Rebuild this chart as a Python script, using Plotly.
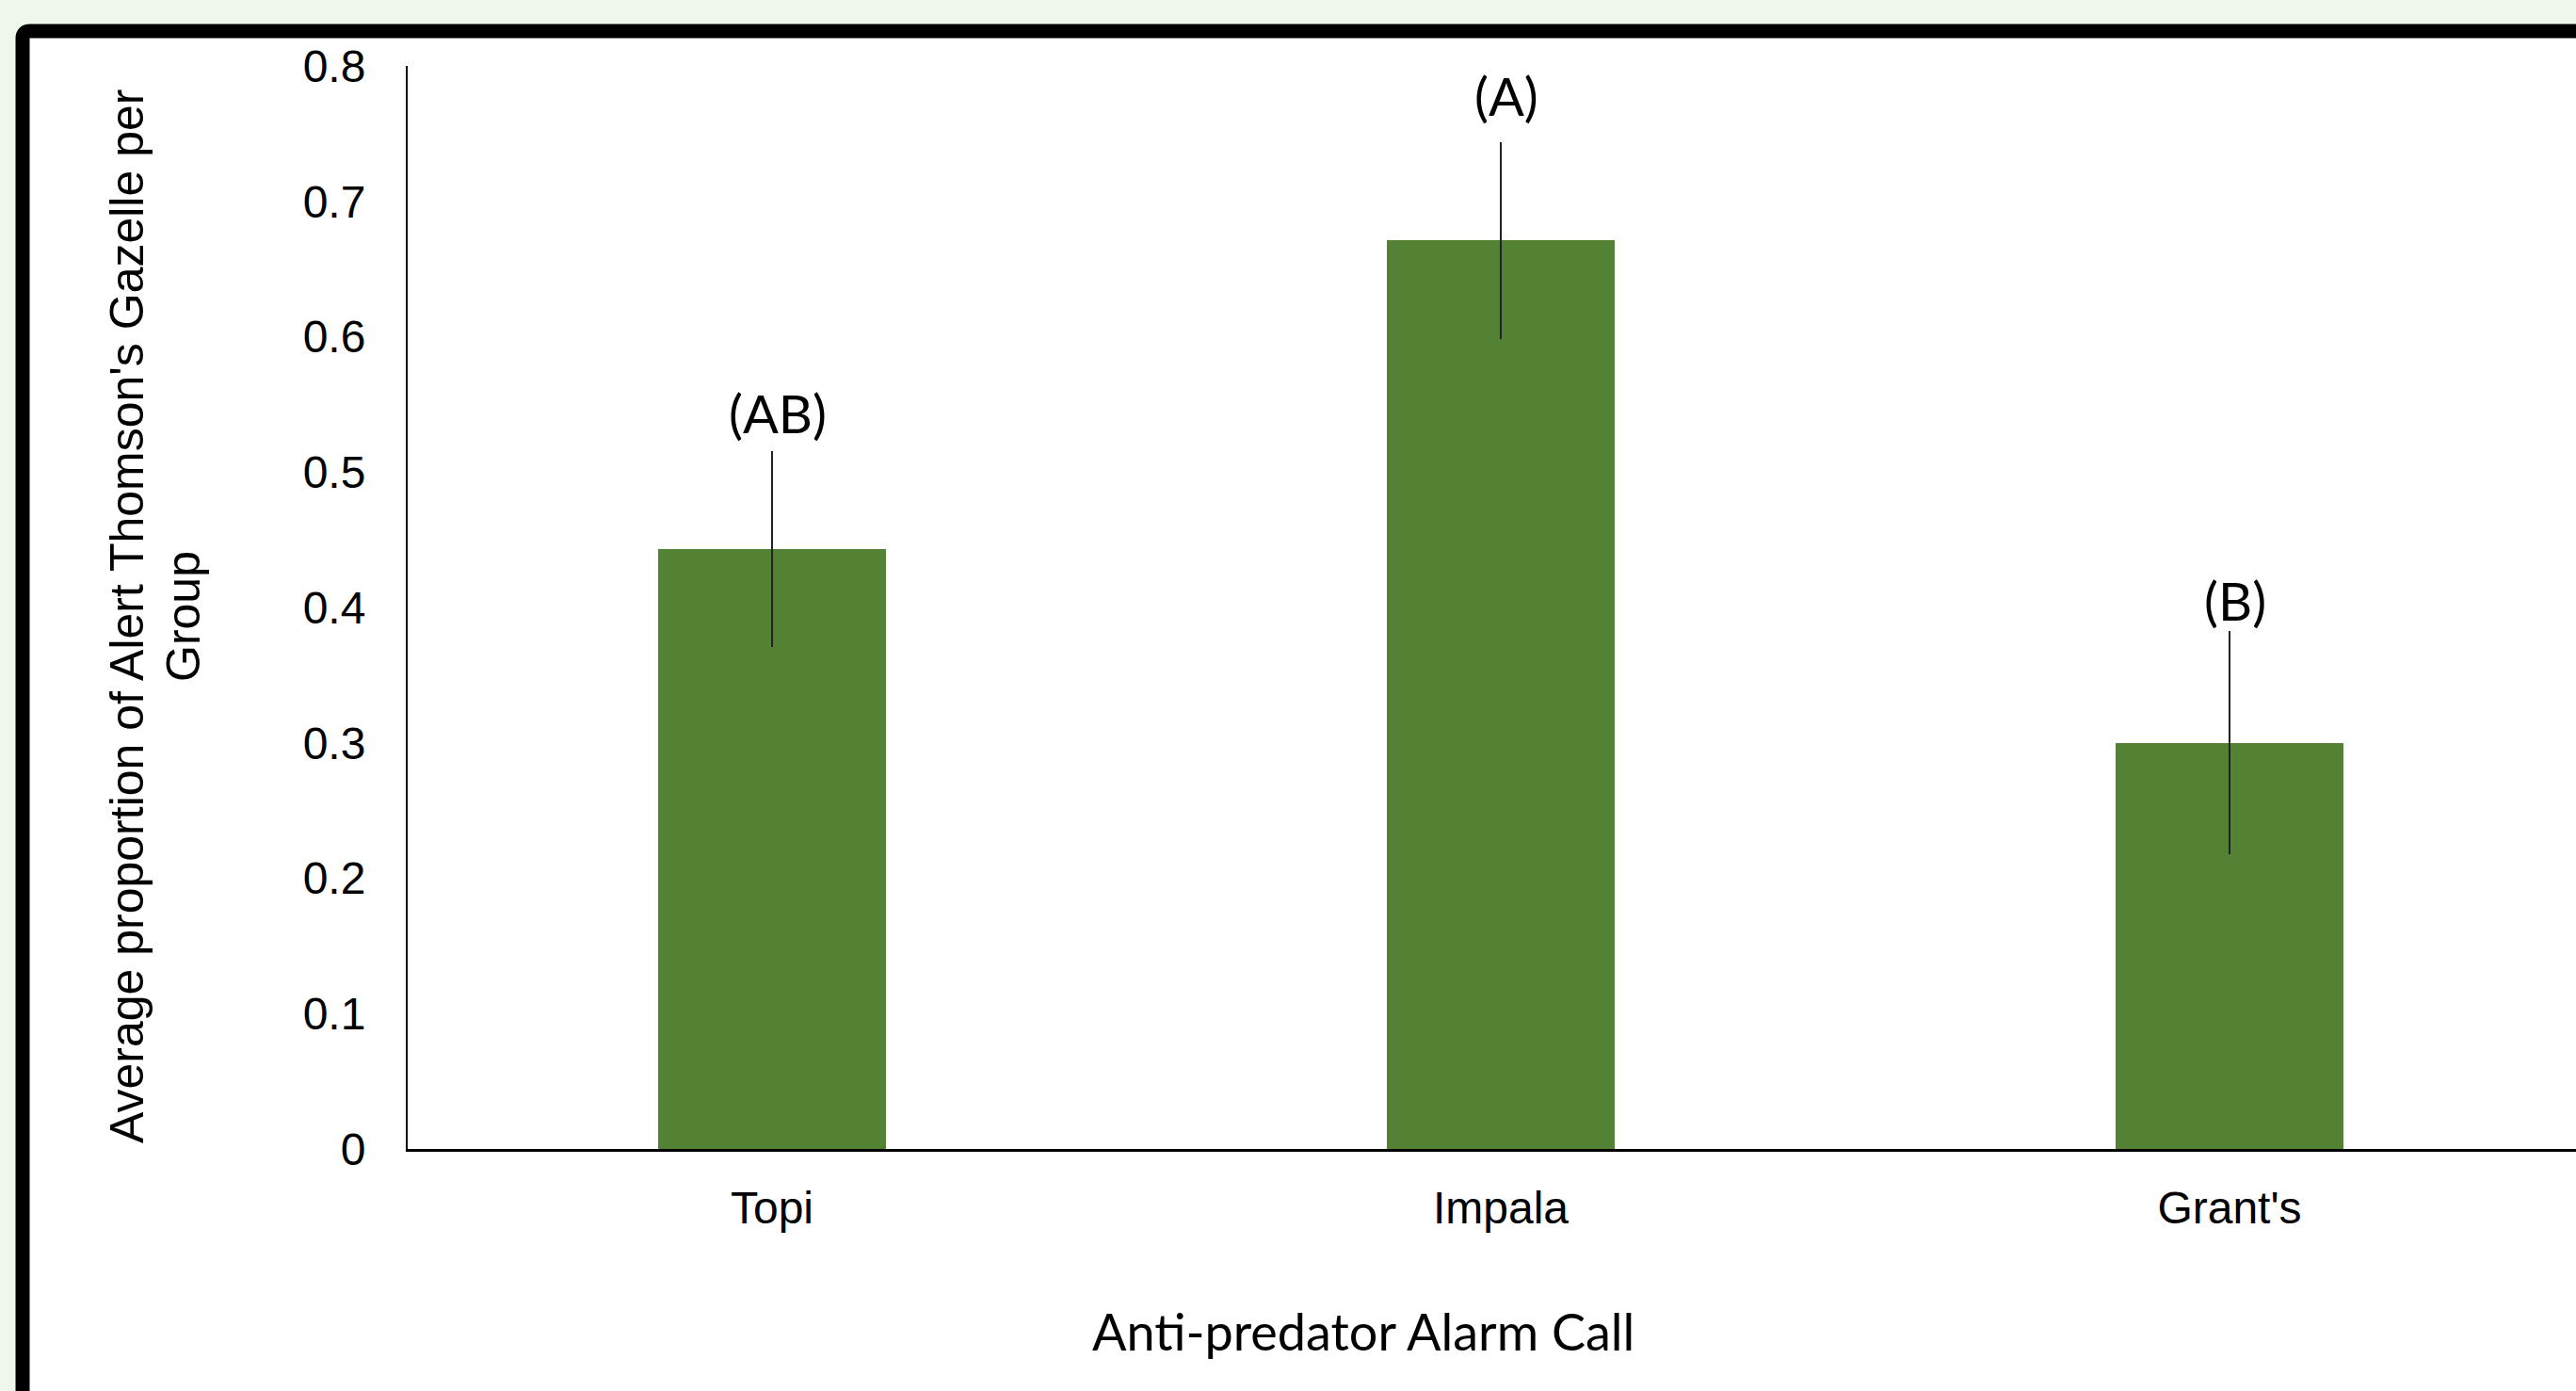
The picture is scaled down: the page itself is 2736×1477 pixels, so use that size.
import plotly.graph_objects as go

# ---- data ----
categories = ["Topi", "Impala", "Grant's"]
mean_alert = [0.443, 0.671, 0.300]
error_vals = [0.072, 0.072, 0.082]
group_letters = ["(AB)", "(A)", "(B)"]
letter_y = [0.544, 0.778, 0.405]
y_tick_vals = [0, 0.1, 0.2, 0.3, 0.4, 0.5, 0.6, 0.7, 0.8]
y_tick_text = ["0", "0.1", "0.2", "0.3", "0.4", "0.5", "0.6", "0.7", "0.8"]

# ---- layout constants (pixels) ----
W, H = 2736, 1477
ML, MR, MT, MB = 433, 0, 70, 257
PW = W - ML - MR
PH = H - MT - MB


def px_x(p):
    return (p - ML) / PW


def px_y(p):
    return (H - MB - p) / PH


BAR_COLOR = "#548235"
BG_COLOR = "#EFF7EC"

fig = go.Figure()
fig.add_trace(go.Bar(
    x=categories,
    y=mean_alert,
    width=0.313,
    marker=dict(color=BAR_COLOR, line=dict(width=0)),
    error_y=dict(type="data", array=error_vals, visible=True,
                 color="#222222", thickness=1.5, width=1),
    showlegend=False,
    hoverinfo="skip",
))

annotations = []
for c, lab, ly in zip(categories, group_letters, letter_y):
    annotations.append(dict(
        x=c, y=ly, xref="x", yref="y", text=lab, showarrow=False,
        xanchor="center", yanchor="middle", xshift=6,
        font=dict(family="Lato", size=56, color="black"),
    ))

# x-axis title
annotations.append(dict(
    x=px_x(1448), y=px_y(1413), xref="paper", yref="paper",
    text="Anti-predator Alarm Call", showarrow=False,
    xanchor="center", yanchor="middle",
    font=dict(family="Lato", size=54, color="black"),
))
# y-axis title (two lines)
annotations.append(dict(
    x=px_x(135), y=px_y(655), xref="paper", yref="paper",
    text="Average proportion of Alert Thomson's Gazelle per", showarrow=False,
    textangle=-90, xanchor="center", yanchor="middle",
    font=dict(family="Liberation Sans, Arial", size=50, color="black"),
))
annotations.append(dict(
    x=px_x(195), y=px_y(655), xref="paper", yref="paper",
    text="Group", showarrow=False,
    textangle=-90, xanchor="center", yanchor="middle",
    font=dict(family="Liberation Sans, Arial", size=50, color="black"),
))

# frame with rounded top-left corner
fx0, fy0 = px_x(24), px_y(33)
rx = 8 / PW
ry = 8 / PH
path = (f"M {fx0},-0.5 L {fx0},{fy0 - ry} Q {fx0},{fy0} {fx0 + rx},{fy0} "
        f"L 1.2,{fy0} L 1.2,-0.5 Z")
shapes = [dict(type="path", xref="paper", yref="paper", path=path,
               fillcolor="white", line=dict(color="black", width=15),
               layer="below")]

fig.update_layout(
    width=W, height=H,
    margin=dict(l=ML, r=MR, t=MT, b=MB, pad=0),
    paper_bgcolor=BG_COLOR,
    plot_bgcolor="rgba(0,0,0,0)",
    annotations=annotations,
    shapes=shapes,
    bargap=0,
    xaxis=dict(
        type="category",
        range=[-0.5, -0.5 + 3 * PW / 2322],
        showline=True, linecolor="black", linewidth=3,
        showgrid=False, zeroline=False, ticks="",
        tickfont=dict(family="Liberation Sans, Arial", size=48, color="black"),
        ticklabelstandoff=18,
        fixedrange=True,
    ),
    yaxis=dict(
        range=[0, 0.8],
        tickvals=y_tick_vals, ticktext=y_tick_text,
        showline=True, linecolor="black", linewidth=2,
        showgrid=False, zeroline=False, ticks="",
        tickfont=dict(family="Liberation Sans, Arial", size=48, color="black"),
        ticklabelstandoff=33,
        fixedrange=True,
    ),
)

fig.write_html(
    "out.html",
    config={"displayModeBar": False},
    post_script="document.body.style.margin='0';document.body.style.overflow='hidden';",
)
